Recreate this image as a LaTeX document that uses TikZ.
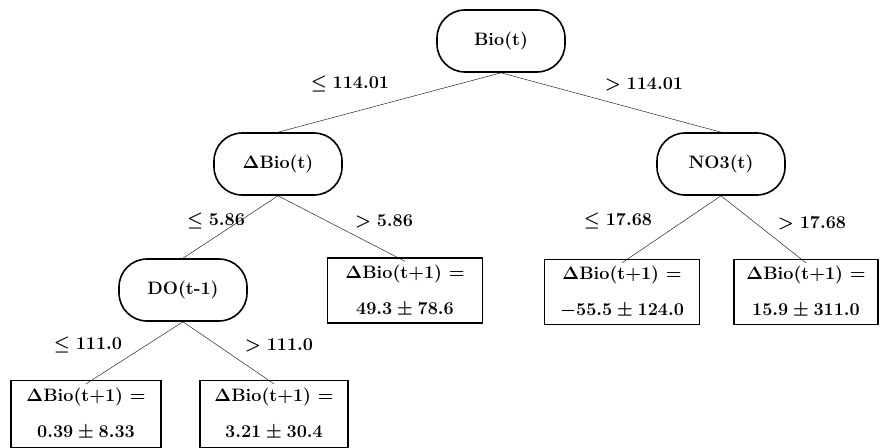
\documentclass[tikz,border=0pt]{standalone}
\usepackage{fix-cm}
\usetikzlibrary{backgrounds}
\begin{document}
\begin{tikzpicture}[x=1pt,y=-1pt,
  txt/.style={font=\fontsize{18}{36}\selectfont\bfseries\boldmath},
  inner/.style={txt, draw, line width=1.6pt, rounded corners=28pt, minimum width=128pt, minimum height=62pt, inner sep=0pt},
  leaf/.style={txt, draw, line width=1.3pt, minimum height=65pt, align=center, inner sep=0pt},
  lbl/.style={txt},
  edge/.style={line width=0.5pt, draw=black!85}]
\useasboundingbox (0,0) rectangle (880,447);
% inner nodes
\node[inner] (bio) at (501,41) {Bio(t)};
\node[inner] (dbio) at (278,164) {$\Delta$Bio(t)};
\node[inner] (no3) at (721,164) {NO3(t)};
\node[inner] (do) at (183,290) {DO(t-1)};
% leaves
\node[leaf, minimum width=155pt] (l49) at (405,290.5) {$\Delta$Bio(t+1) $=$\\ $49.3\pm78.6$};
\node[leaf, minimum width=155pt] (l55) at (622,292) {$\Delta$Bio(t+1) $=$\\ $-55.5\pm124.0$};
\node[leaf, minimum width=144pt] (l15) at (806,292) {$\Delta$Bio(t+1) $=$\\ $15.9\pm311.0$};
\node[leaf, minimum width=150pt, minimum height=67pt] (l039) at (86,414) {$\Delta$Bio(t+1) $=$\\ $0.39\pm8.33$};
\node[leaf, minimum width=148pt, minimum height=67pt] (l321) at (274,414) {$\Delta$Bio(t+1) $=$\\ $3.21\pm30.4$};
% labels
\node[lbl] (a1) at (350,84) {$\leq 114.01$};
\node[lbl] (a2) at (644,84) {$> 114.01$};
\node[lbl] (b1) at (216,221) {$\leq 5.86$};
\node[lbl] (b2) at (384,221) {$> 5.86$};
\node[lbl] (c1) at (618,221) {$\leq 17.68$};
\node[lbl] (c2) at (812,223) {$> 17.68$};
\node[lbl] (d1) at (88,345) {$\leq 111.0$};
\node[lbl] (d2) at (279,345) {$> 111.0$};
% connectors
\begin{scope}[on background layer]
\draw[edge] (bio.south) -- (dbio.north);
\draw[edge] (bio.south) -- (no3.north);
\draw[edge] (dbio.south) -- (do.north);
\draw[edge] (dbio.south) -- ([yshift=-4pt]l49.north);
\draw[edge] (no3.south) -- ([yshift=-4pt]l55.north);
\draw[edge] (no3.south) -- ([yshift=-4pt]l15.north);
\draw[edge] (do.south) -- ([yshift=-4pt]l039.north);
\draw[edge] (do.south) -- ([yshift=-4pt]l321.north);
\end{scope}
\end{tikzpicture}
\end{document}
